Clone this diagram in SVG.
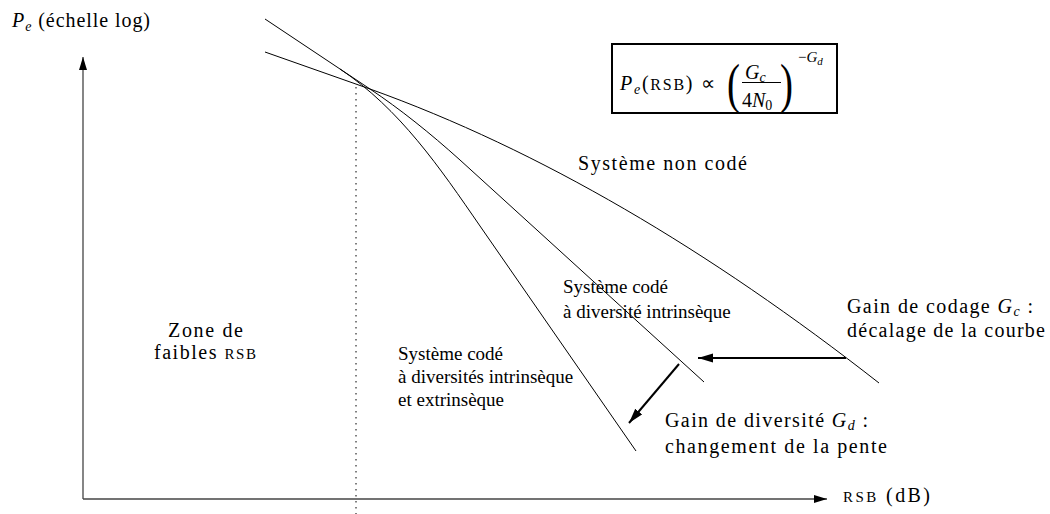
<svg xmlns="http://www.w3.org/2000/svg" width="1050" height="514" viewBox="0 0 1050 514">
<style>
text{fill:#000}
.cm{font-family:'Liberation Serif','Times New Roman',serif;font-size:20px}
.tm{font-family:'Liberation Serif','Times New Roman',serif;font-size:19px}
.it{font-style:italic}
.sc{font-size:15px}
.curve{fill:none;stroke:#000;stroke-width:1}
.axis{fill:none;stroke:#444;stroke-width:1.3}
.arr{fill:none;stroke:#000;stroke-width:2}
</style>
<defs>
<marker id="ah" markerUnits="userSpaceOnUse" markerWidth="18" markerHeight="12" refX="15" refY="4.5" orient="auto">
<path d="M0,0 L15,4.5 L0,9 Z" fill="#000"/>
</marker>
<marker id="ax" markerUnits="userSpaceOnUse" markerWidth="16" markerHeight="10" refX="13" refY="4" orient="auto">
<path d="M0,0 L13,4 L0,8 Z" fill="#000"/>
</marker>
</defs>
<rect width="1050" height="514" fill="#fff"/>

<g id="axes">
<line class="axis" x1="83" y1="499" x2="83" y2="57" marker-end="url(#ax)"/>
<line class="axis" x1="83" y1="499" x2="827" y2="499" marker-end="url(#ax)"/>
<line x1="356" y1="87" x2="356" y2="514" stroke="#000" stroke-width="1" stroke-dasharray="1.5 4.5"/>
</g>

<g id="curves">
<path id="curve-non-code" class="curve" d="M265,52 L370,89 C540,150 709,250 879,383"/>
<path id="curve-intrinseque" class="curve" d="M265,19 L370,89 C400,109 430,133 460,160 L704,382"/>
<path id="curve-extrinseque" class="curve" d="M340,69 C400,109 440,168 480,226 L636,451"/>
</g>

<g id="connectors">
<line class="arr" x1="846" y1="358" x2="698" y2="358" marker-end="url(#ah)"/>
<line class="arr" x1="679" y1="364" x2="629" y2="423" marker-end="url(#ah)"/>
</g>

<g id="label-yaxis">
<text class="cm" x="12" y="27" style="font-size:20px" textLength="138" lengthAdjust="spacing"><tspan class="it">P</tspan><tspan class="it" style="font-size:14px" dy="4">e</tspan><tspan dy="-4"> (échelle log)</tspan></text>
</g>

<g id="formula">
<rect x="612" y="44" width="225" height="69" fill="none" stroke="#000" stroke-width="2"/>
<text class="cm" x="620" y="90" style="font-size:20px" textLength="95" lengthAdjust="spacing"><tspan class="it">P</tspan><tspan class="it" style="font-size:14px" dy="4">e</tspan><tspan dy="-4">(</tspan><tspan style="font-size:16px">RSB</tspan><tspan>) ∝</tspan></text>
<text class="cm" x="0" y="0" style="font-size:52px" transform="translate(727,102) scale(0.75,1.05)">(</text>
<text class="cm" x="0" y="0" style="font-size:52px" transform="translate(780,102) scale(0.75,1.05)">)</text>
<text class="cm" x="745" y="79" style="font-size:20px"><tspan class="it">G</tspan><tspan class="it" style="font-size:14px" dy="3">c</tspan></text>
<line x1="742" y1="82.5" x2="781" y2="82.5" stroke="#000" stroke-width="1"/>
<text class="cm" x="742" y="107" style="font-size:20px">4<tspan class="it">N</tspan><tspan style="font-size:14px" dy="3">0</tspan></text>
<text class="cm" x="798" y="62" style="font-size:15px">−<tspan class="it">G</tspan><tspan class="it" style="font-size:11px" dy="3">d</tspan></text>
</g>

<g id="label-non-code">
<text class="cm" x="578" y="170" textLength="169" lengthAdjust="spacing">Système non codé</text>
</g>

<g id="label-intrinseque">
<text class="tm" x="563" y="293">Système codé</text>
<text class="tm" x="563" y="318">à diversité intrinsèque</text>
</g>

<g id="label-extrinseque">
<text class="tm" x="398" y="360">Système codé</text>
<text class="tm" x="398" y="383">à diversités intrinsèque</text>
<text class="tm" x="398" y="406">et extrinsèque</text>
</g>

<g id="label-zone">
<text class="cm" x="168" y="337" textLength="75" lengthAdjust="spacing">Zone de</text>
<text class="cm" x="154" y="359" textLength="102" lengthAdjust="spacing">faibles <tspan class="sc">RSB</tspan></text>
</g>

<g id="label-gain-codage">
<text class="cm" x="847" y="313" textLength="186" lengthAdjust="spacing">Gain de codage <tspan class="it">G</tspan><tspan class="it" style="font-size:14px" dy="3">c</tspan><tspan dy="-3"> :</tspan></text>
<text class="cm" x="847" y="337" textLength="198" lengthAdjust="spacing">décalage de la courbe</text>
</g>

<g id="label-gain-diversite">
<text class="cm" x="665" y="427" textLength="203" lengthAdjust="spacing">Gain de diversité <tspan class="it">G</tspan><tspan class="it" style="font-size:14px" dy="3">d</tspan><tspan dy="-3"> :</tspan></text>
<text class="cm" x="665" y="453" textLength="222" lengthAdjust="spacing">changement de la pente</text>
</g>

<g id="label-xaxis">
<text class="cm" x="843" y="502" textLength="87" lengthAdjust="spacing"><tspan class="sc">RSB</tspan> (dB)</text>
</g>
</svg>
